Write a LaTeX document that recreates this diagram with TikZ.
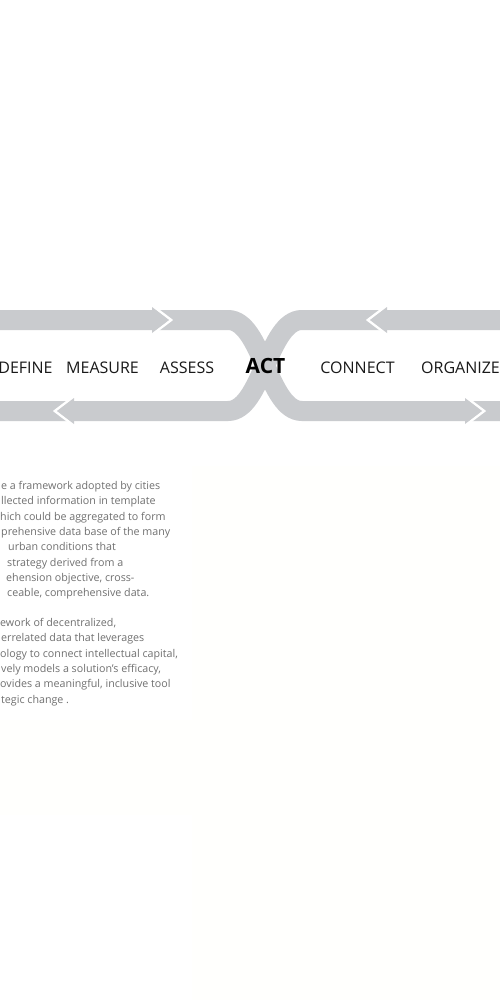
\documentclass[tikz,border=0pt]{standalone}
\usepackage{fontspec}
\setmainfont{Open Sans}
\definecolor{bandgray}{RGB}{201,203,206}
\definecolor{labelcol}{RGB}{25,25,25}
\definecolor{paracol}{RGB}{112,112,112}
\definecolor{creamA}{RGB}{255,255,253}
\tikzset{
  band/.style={line width=20pt, draw=bandgray},
  steplabel/.style={font=\fontsize{16}{19}\selectfont, text=labelcol, inner sep=0pt, anchor=base},
  actlabel/.style={font=\fontsize{21}{24}\selectfont\bfseries, text=black, inner sep=0pt, anchor=base},
  paraline/.style={font=\fontsize{10.7}{13}\selectfont, text=paracol, inner sep=0pt, anchor=base west},
  chev/.pic={
    \draw[white, line width=2.6pt, line join=miter] (-20,-16) -- (1,0) -- (-20,16);
    \fill[bandgray] (-18,-13) -- (-1,0) -- (-18,13) -- cycle;
  }
}
\begin{document}
\begin{tikzpicture}[x=1pt,y=-1pt]
\useasboundingbox (0,0) rectangle (500,1000);
\fill[white] (0,0) rectangle (500,1000);
% faint cream background areas
\fill[creamA] (192,466) rectangle (500,1000);
\fill[creamA] (0,720) rectangle (192,815);

% coordinates of the two loops
\coordinate (tl0) at (-5,320);
\coordinate (tl1) at (228,320);
\coordinate (br1) at (302,411);
\coordinate (br0) at (505,411);
\coordinate (tr0) at (505,320);
\coordinate (tr1) at (302,320);
\coordinate (bl1) at (228,411);
\coordinate (bl0) at (-5,411);

\draw[band] (tl0) -- (tl1) .. controls (262,320) and (268,411) .. (br1) -- (br0);
\draw[band] (tr0) -- (tr1) .. controls (268,320) and (262,411) .. (bl1) -- (bl0);

% chevron arrow breaks
\pic at (170,320) {chev};
\pic at (483,411) {chev};
\pic[xscale=-1] at (369,320) {chev};
\pic[xscale=-1] at (56,411) {chev};

% step labels
\node[steplabel] (define)  at (25.5,373.5) {DEFINE};
\node[steplabel] (measure) at (102.5,373.5) {MEASURE};
\node[steplabel] (assess)  at (187,373.5) {ASSESS};
\node[actlabel]  (act)     at (265.5,373) {ACT};
\node[steplabel] (connect) at (357.5,373.5) {CONNECT};
\node[steplabel] (organize) at (460.5,373.5) {ORGANIZE};

% paragraph text (clipped at the left edge)
\foreach \xx/\t [count=\i] in {
  1/{e a framework adopted by cities},
  1/{llected information in template},
  0/{hich could be aggregated to form},
  1/{prehensive data base of the many},
  8/{urban conditions that},
  7/{strategy derived from a},
  6/{ehension objective, cross-},
  7/{ceable, comprehensive data.}}
  \node[paraline] (p1-\i) at (\xx,{489.5+15.3*(\i-1)}) {\t};
\foreach \xx/\t [count=\i] in {
  0/{ework of decentralized,},
  1/{errelated data that leverages},
  0/{ology to connect intellectual capital,},
  1/{vely models a solution’s efficacy,},
  0/{ovides a meaningful, inclusive tool},
  1/{tegic change .}}
  \node[paraline] (p2-\i) at (\xx,{626.5+15.3*(\i-1)}) {\t};
\end{tikzpicture}
\end{document}
